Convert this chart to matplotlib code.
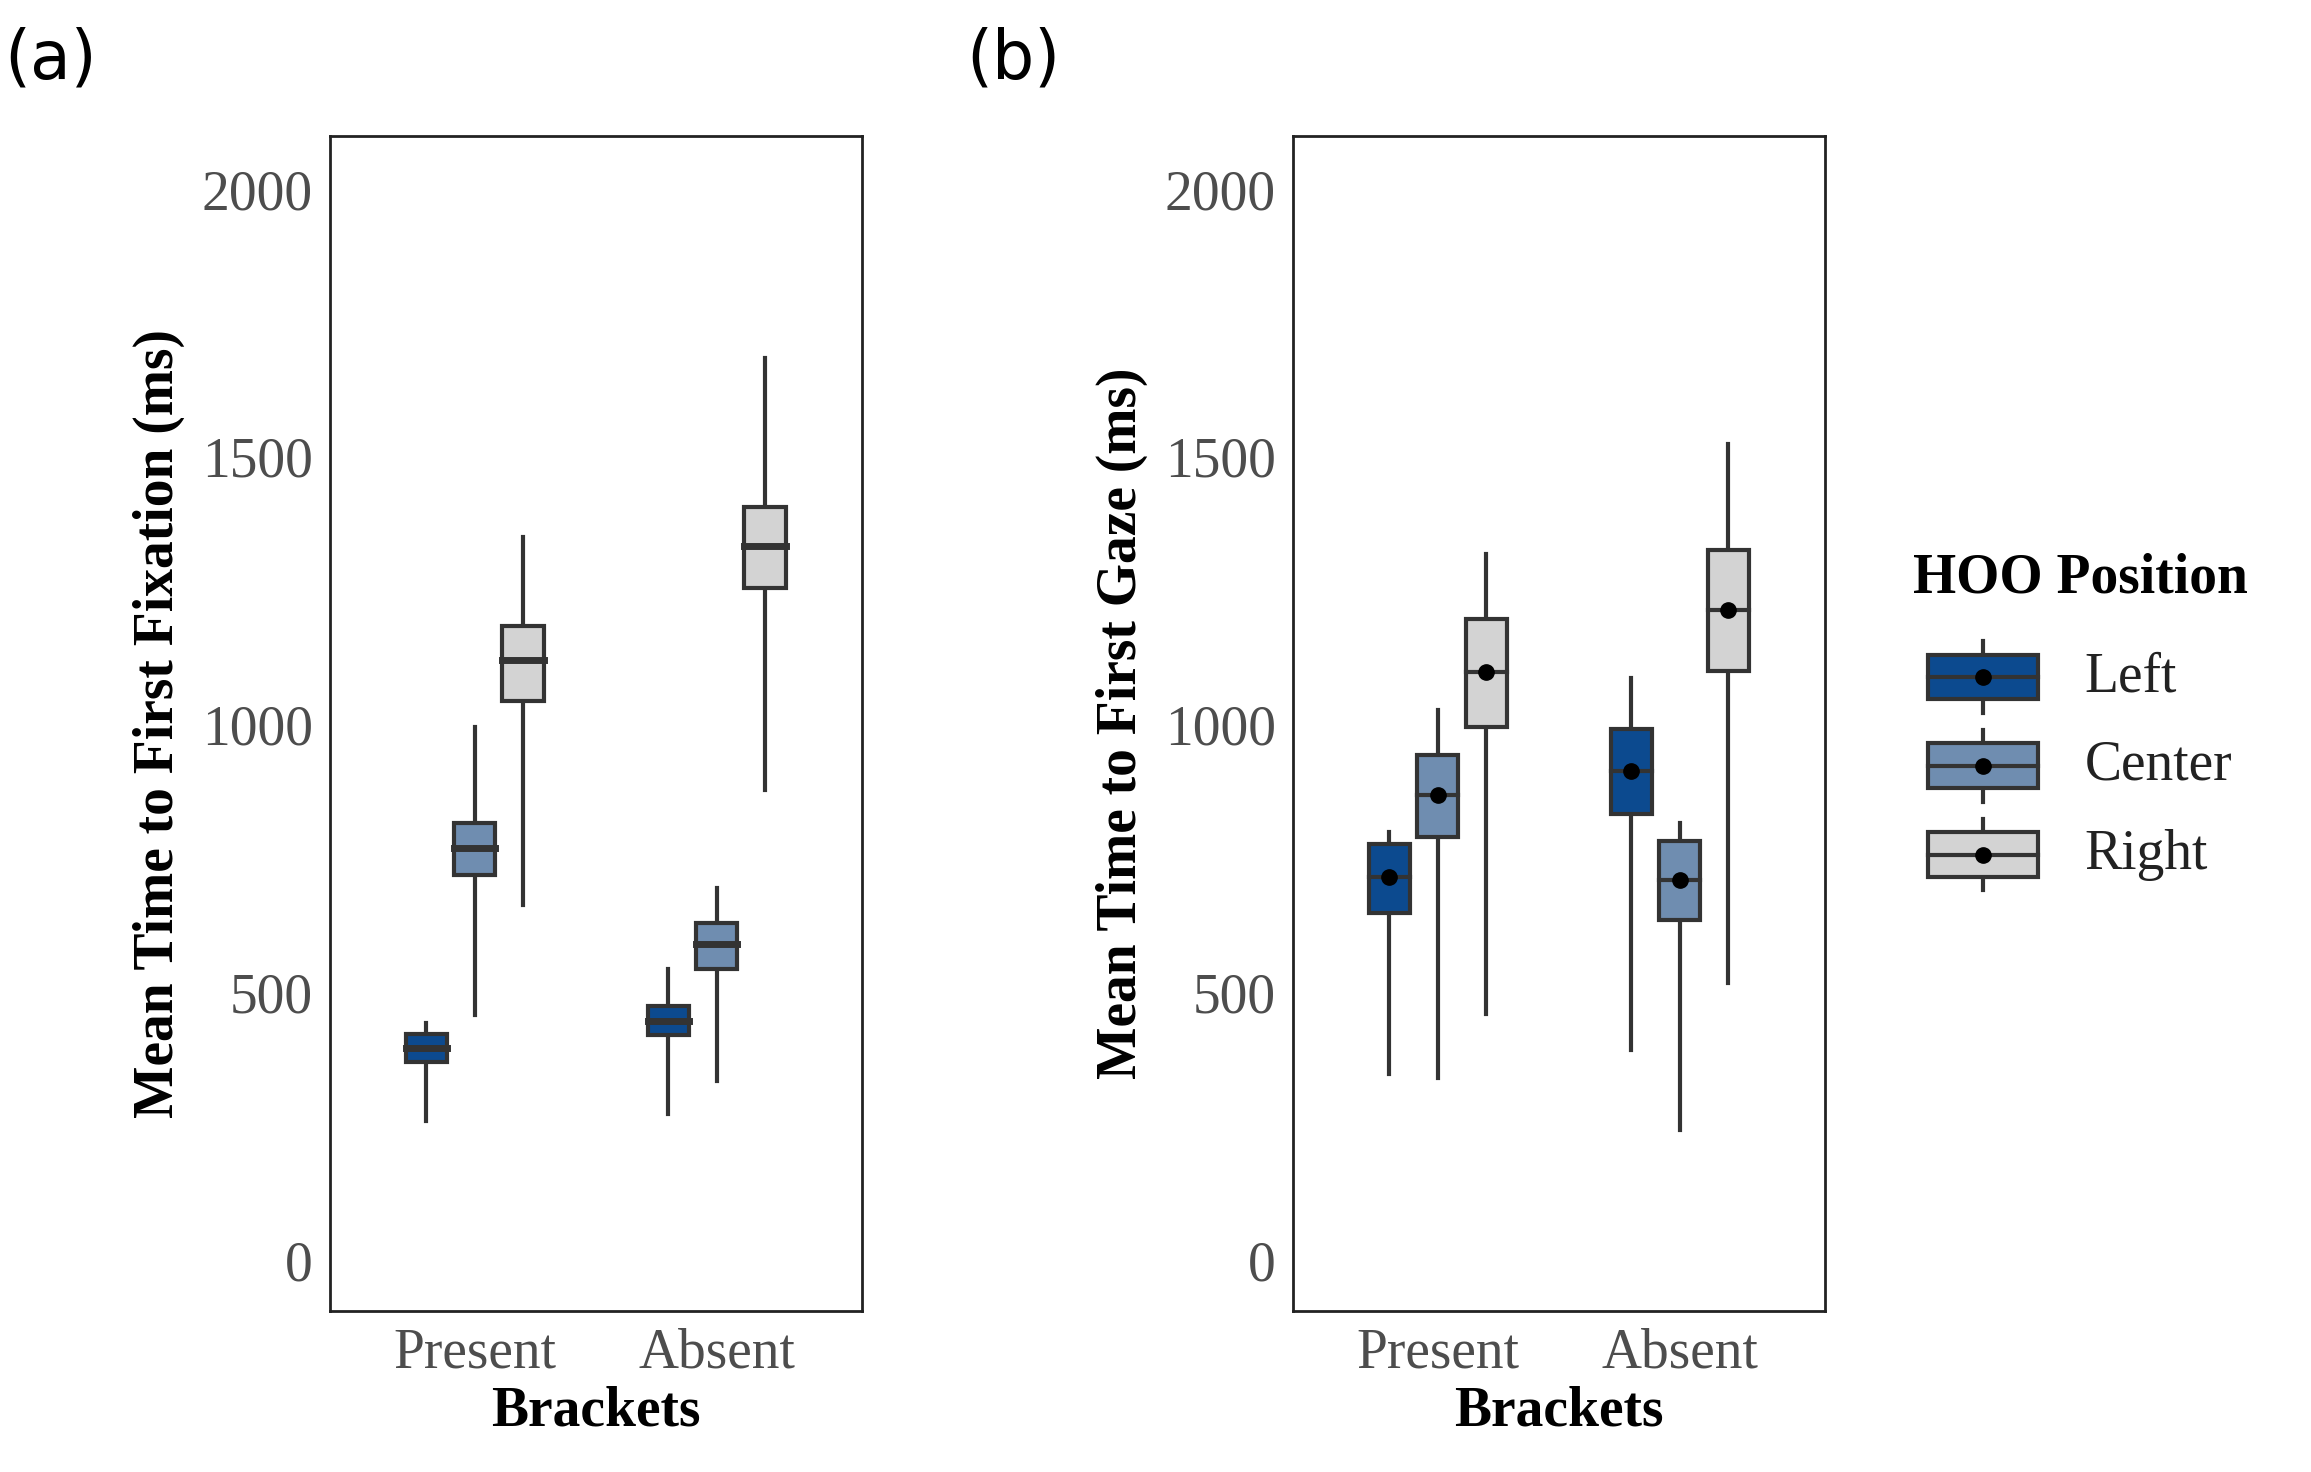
import numpy as np
import matplotlib.pyplot as plt
from matplotlib.patches import Rectangle

plt.rcParams['font.family'] = ['Liberation Serif', 'DejaVu Serif']

groups = ['Present', 'Absent']
positions = ['Left', 'Center', 'Right']
colors = ['#0c4a8f', '#6f8db0', '#d3d3d3']
edge = '#333333'

# panel (a): time to first fixation; per group, per position: (low, q1, median, q3, high)
fix_stats = {
    'Present': [(259, 370, 396, 423, 443), (457, 719, 769, 816, 995), (663, 1045, 1120, 1184, 1351)],
    'Absent': [(273, 421, 446, 474, 543), (334, 543, 591, 630, 694), (878, 1256, 1334, 1407, 1685)],
}
# panel (b): time to first gaze
gaze_stats = {
    'Present': [(348, 649, 716, 777, 800), (340, 791, 869, 944, 1028), (460, 995, 1098, 1198, 1318)],
    'Absent': [(393, 833, 914, 992, 1087), (242, 635, 710, 783, 816), (518, 1100, 1215, 1326, 1524)],
}

W, H = 1550, 987
fig = plt.figure(figsize=(23.11, 14.72), dpi=100)


def panel(left_px, stats, ylabel, letter, letter_x, dots):
    ax = fig.add_axes([left_px / W, 1 - 879 / H, 357 / W, (879 - 91) / H])
    bw = 0.17
    for gi, g in enumerate(groups):
        for pi, (lo, q1, med, q3, hi) in enumerate(stats[g]):
            x = gi + 1 + (pi - 1) * 0.2
            ax.plot([x, x], [lo, hi], color=edge, lw=3, zorder=1)
            ax.add_patch(Rectangle((x - bw / 2, q1), bw, q3 - q1, facecolor=colors[pi],
                                   edgecolor=edge, lw=3, zorder=2))
            ax.plot([x - bw / 2, x + bw / 2], [med, med], color=edge, lw=3 if dots else 5, zorder=3)
            if dots:
                ax.plot(x, med, 'o', color='black', ms=11, zorder=4)
    ax.set_xlim(0.4, 2.6)
    ax.set_ylim(-95, 2100)
    ax.set_xticks([1, 2], groups)
    ax.set_yticks([0, 500, 1000, 1500, 2000])
    ax.tick_params(length=0, labelsize=40, labelcolor='#4d4d4d', pad=12)
    for s in ax.spines.values():
        s.set_linewidth(2)
        s.set_color('#222222')
    ax.set_xlabel('Brackets', fontsize=40, fontweight='bold', labelpad=4)
    ax.set_ylabel(ylabel, fontsize=40, fontweight='bold', labelpad=12)
    fig.text(letter_x / W, 1 - 40 / H, letter, fontsize=48, family='DejaVu Sans', va='center')
    return ax


panel(221, fix_stats, 'Mean Time to First Fixation (ms)', '(a)', 3, False)
panel(867, gaze_stats, 'Mean Time to First Gaze (ms)', '(b)', 648, True)

# legend
fig.text(1283 / W, 1 - 388 / H, 'HOO Position', fontsize=40, fontweight='bold', va='center')
lg = fig.add_axes([1280 / W, 1 - 610 / H, 260 / W, 190 / H])
lg.set_xlim(1280, 1540)
lg.set_ylim(610, 420)
lg.axis('off')
for i, name in enumerate(positions):
    y = 454 + i * 59.5
    lg.plot([1330, 1330], [y - 24, y + 24], color=edge, lw=3, zorder=1)
    lg.add_patch(Rectangle((1293, y - 15), 74, 30, facecolor=colors[i], edgecolor=edge, lw=3, zorder=2))
    lg.plot([1293, 1367], [y, y], color=edge, lw=3, zorder=3)
    lg.plot(1330, y, 'o', color='black', ms=11, zorder=4)
    lg.text(1398, y, name, fontsize=40, va='center', color='#222222')

fig.savefig('out.png', dpi=100)
